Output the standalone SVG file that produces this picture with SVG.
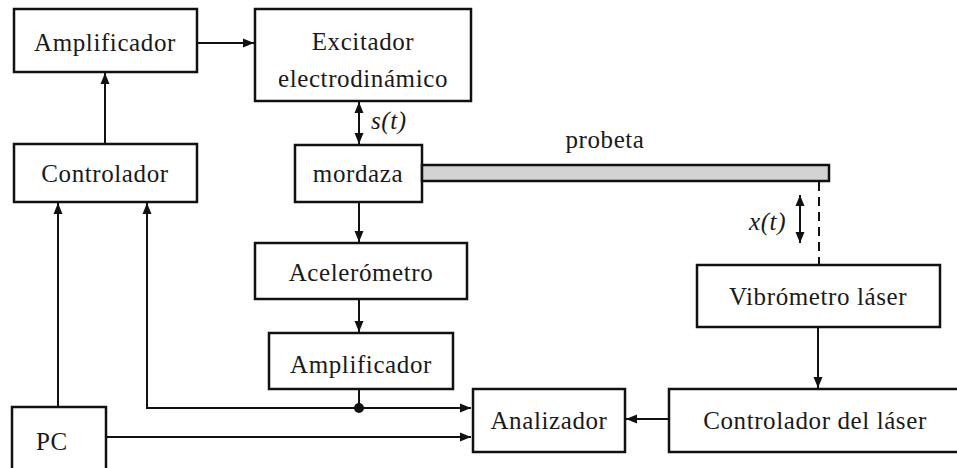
<svg xmlns="http://www.w3.org/2000/svg" width="957" height="468" viewBox="0 0 957 468">
<style>
.box{fill:#fff;stroke:#111;stroke-width:2.5}
.t{font-family:"Liberation Serif","Times New Roman",serif;font-size:25px;letter-spacing:0.6px;fill:#1a1a1a;text-anchor:middle}
.it{font-style:italic;text-anchor:start}
.ln{fill:none;stroke:#111;stroke-width:2}
</style>
<defs>
<marker id="ah" viewBox="0 0 11 10" refX="11" refY="5" markerWidth="11" markerHeight="10" markerUnits="userSpaceOnUse" orient="auto-start-reverse">
<path d="M0,0.5 L11,5 L0,9.5 Z" fill="#111"/>
</marker>
</defs>
<rect width="957" height="468" fill="#fff"/>
<g id="connectors">
<line class="ln" x1="197" y1="43" x2="254" y2="43" marker-end="url(#ah)"/>
<line class="ln" x1="105" y1="144" x2="105" y2="73" marker-end="url(#ah)"/>
<line class="ln" x1="359" y1="102" x2="359" y2="144" marker-start="url(#ah)" marker-end="url(#ah)"/>
<line class="ln" x1="359" y1="202" x2="359" y2="242" marker-end="url(#ah)"/>
<line class="ln" x1="359" y1="299" x2="359" y2="332" marker-end="url(#ah)"/>
<line class="ln" x1="359" y1="389" x2="359" y2="408"/>
<polyline class="ln" points="471,408 147,408 147,203" marker-start="url(#ah)" marker-end="url(#ah)"/>
<circle cx="359" cy="408" r="5" fill="#111"/>
<line class="ln" x1="58" y1="407" x2="58" y2="203" marker-end="url(#ah)"/>
<line class="ln" x1="106" y1="437" x2="471" y2="437" marker-end="url(#ah)"/>
<line class="ln" x1="818" y1="327" x2="818" y2="388" marker-end="url(#ah)"/>
<line class="ln" x1="669" y1="419" x2="626" y2="419" marker-end="url(#ah)"/>
<line class="ln" x1="819" y1="182" x2="819" y2="265" stroke-dasharray="9,6"/>
<line class="ln" x1="800" y1="195" x2="800" y2="243" marker-start="url(#ah)" marker-end="url(#ah)"/>
</g>
<g id="amplificador1"><rect class="box" x="14" y="9" width="183" height="63"/><text class="t" x="105" y="51">Amplificador</text></g>
<g id="excitador"><rect class="box" x="255" y="9" width="216" height="92"/><text class="t" x="363" y="50">Excitador</text><text class="t" x="363" y="87">electrodinámico</text></g>
<g id="controlador"><rect class="box" x="14" y="144" width="183" height="58"/><text class="t" x="105" y="182">Controlador</text></g>
<g id="mordaza"><rect class="box" x="295" y="145" width="127" height="57"/><text class="t" x="358" y="182">mordaza</text></g>
<g id="probeta"><rect x="422" y="165" width="407" height="16" fill="#d3d3d3" stroke="#111" stroke-width="2.5"/><text class="t" x="605" y="148">probeta</text></g>
<g id="st"><text class="t it" x="371" y="129">s(t)</text></g>
<g id="xt"><text class="t it" x="749" y="230">x(t)</text></g>
<g id="acelerometro"><rect class="box" x="255" y="243" width="212" height="56"/><text class="t" x="361" y="281">Acelerómetro</text></g>
<g id="amplificador2"><rect class="box" x="269" y="333" width="184" height="56"/><text class="t" x="361" y="373">Amplificador</text></g>
<g id="vibrometro"><rect class="box" x="697" y="265" width="243" height="62"/><text class="t" x="818" y="305">Vibrómetro láser</text></g>
<g id="pc"><rect class="box" x="12" y="407" width="94" height="70"/><text class="t" x="52" y="450">PC</text></g>
<g id="analizador"><rect class="box" x="473" y="389" width="152" height="63"/><text class="t" x="549" y="429">Analizador</text></g>
<g id="controlador_laser"><rect class="box" x="669" y="389" width="295" height="63"/><text class="t" x="815" y="429">Controlador del láser</text></g>
</svg>
